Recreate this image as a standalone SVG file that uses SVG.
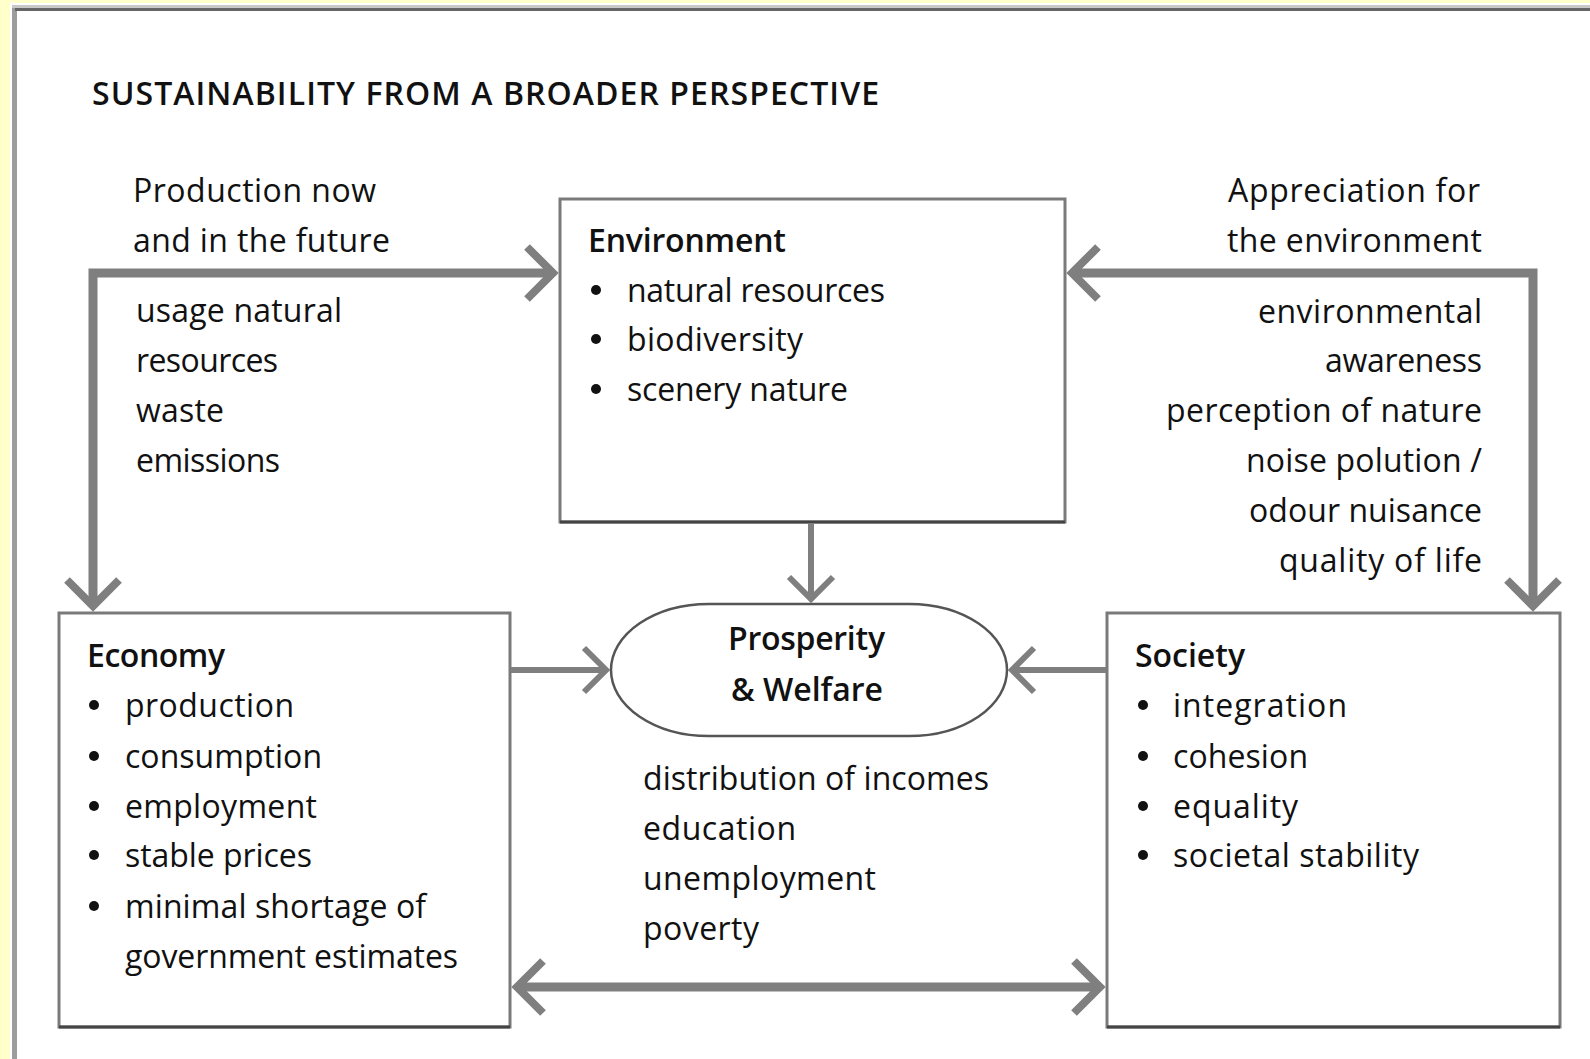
<svg xmlns="http://www.w3.org/2000/svg" width="1590" height="1059" viewBox="0 0 1590 1059">
<style>
text{font-family:"Open Sans","Liberation Sans",sans-serif;font-size:32px;fill:#111}
.b{font-weight:600}
.r{text-anchor:end}
.box{fill:#fff;stroke:#7a7a7a;stroke-width:3}
.shade{stroke:#444;stroke-width:3;fill:none}
.oval{fill:#fff;stroke:#555;stroke-width:2.5}
.big{fill:none;stroke:#7f7f7f;stroke-width:9;stroke-linejoin:miter}
.small{fill:none;stroke:#7f7f7f;stroke-width:6}
.dot{fill:#111}
</style>
<defs>
<marker id="ahBig" markerUnits="userSpaceOnUse" markerWidth="60" markerHeight="70" viewBox="0 0 60 70" refX="36" refY="35" orient="auto-start-reverse" overflow="visible">
<path d="M10 9 L36 35 L10 61" fill="none" stroke="#7f7f7f" stroke-width="8"/>
</marker>
<marker id="ahSmall" markerUnits="userSpaceOnUse" markerWidth="50" markerHeight="60" viewBox="0 0 50 60" refX="32" refY="30" orient="auto-start-reverse" overflow="visible">
<path d="M10 8 L32 30 L10 52" fill="none" stroke="#7f7f7f" stroke-width="6"/>
</marker>
</defs>

<rect x="0" y="0" width="1590" height="1059" fill="#fff"/>
<rect x="0" y="0" width="10" height="1059" fill="#ffffcc"/>
<rect x="0" y="0" width="1590" height="3" fill="#ffffcc"/>
<rect x="12" y="5" width="5" height="1054" fill="#9c9c9c"/>
<rect x="12" y="5" width="1578" height="3" fill="#c8c8c8"/>
<rect x="15" y="8" width="1575" height="3" fill="#666"/>

<text id="title" class="b" x="92" y="105" textLength="787">SUSTAINABILITY FROM A BROADER PERSPECTIVE</text>

<g id="environment">
<rect class="box" x="560" y="199" width="505" height="323"/>
<path class="shade" d="M560 522 H1065"/>
<text class="b" x="588" y="252" textLength="198">Environment</text>
<circle class="dot" cx="596" cy="290" r="5"/>
<text x="627" y="302" textLength="258">natural resources</text>
<circle class="dot" cx="596" cy="339" r="5"/>
<text x="627" y="351" textLength="176">biodiversity</text>
<circle class="dot" cx="596" cy="389" r="5"/>
<text x="627" y="401" textLength="221">scenery nature</text>
</g>

<g id="prosperity">
<rect class="oval" x="611" y="604" width="396" height="132" rx="98" ry="66"/>
<text class="b" x="728" y="650" textLength="157">Prosperity</text>
<text class="b" x="731" y="701" textLength="152">&amp; Welfare</text>
</g>

<g id="economy">
<rect class="box" x="59" y="613" width="451" height="414"/>
<path class="shade" d="M59 1027 H510"/>
<text class="b" x="87" y="667" textLength="138">Economy</text>
<circle class="dot" cx="94" cy="705" r="5"/>
<text x="125" y="717" textLength="169">production</text>
<circle class="dot" cx="94" cy="756" r="5"/>
<text x="125" y="768" textLength="197">consumption</text>
<circle class="dot" cx="94" cy="806" r="5"/>
<text x="125" y="818" textLength="192">employment</text>
<circle class="dot" cx="94" cy="855" r="5"/>
<text x="125" y="867" textLength="187">stable prices</text>
<circle class="dot" cx="94" cy="906" r="5"/>
<text x="125" y="918" textLength="301">minimal shortage of</text>
<text x="125" y="968" textLength="333">government estimates</text>
</g>

<g id="society">
<rect class="box" x="1107" y="613" width="453" height="414"/>
<path class="shade" d="M1107 1027 H1560"/>
<text class="b" x="1135" y="667" textLength="110">Society</text>
<circle class="dot" cx="1143" cy="705" r="5"/>
<text x="1173" y="717" textLength="174">integration</text>
<circle class="dot" cx="1143" cy="756" r="5"/>
<text x="1173" y="768" textLength="135">cohesion</text>
<circle class="dot" cx="1143" cy="806" r="5"/>
<text x="1173" y="818" textLength="125">equality</text>
<circle class="dot" cx="1143" cy="855" r="5"/>
<text x="1173" y="867" textLength="246">societal stability</text>
</g>

<g id="labels-left">
<text x="133" y="202" textLength="243">Production now</text>
<text x="133" y="252" textLength="257">and in the future</text>
<text x="136" y="322" textLength="206">usage natural</text>
<text x="136" y="372" textLength="142">resources</text>
<text x="136" y="422" textLength="88">waste</text>
<text x="136" y="472" textLength="144">emissions</text>
</g>

<g id="labels-right">
<text class="r" x="1480" y="202" textLength="252">Appreciation for</text>
<text class="r" x="1482" y="252" textLength="255">the environment</text>
<text class="r" x="1482" y="323" textLength="224">environmental</text>
<text class="r" x="1482" y="372" textLength="157">awareness</text>
<text class="r" x="1482" y="422" textLength="316">perception of nature</text>
<text class="r" x="1482" y="472" textLength="236">noise polution /</text>
<text class="r" x="1482" y="522" textLength="233">odour nuisance</text>
<text class="r" x="1482" y="572" textLength="203">quality of life</text>
</g>

<g id="labels-middle">
<text x="643" y="790" textLength="346">distribution of incomes</text>
<text x="643" y="840" textLength="153">education</text>
<text x="643" y="890" textLength="233">unemployment</text>
<text x="643" y="940" textLength="116">poverty</text>
</g>

<g id="connectors">
<path class="big" d="M553 273 H93 V606" marker-start="url(#ahBig)" marker-end="url(#ahBig)"/>
<path class="big" d="M1072 273 H1533 V606" marker-start="url(#ahBig)" marker-end="url(#ahBig)"/>
<path class="big" d="M517 987 H1100" marker-start="url(#ahBig)" marker-end="url(#ahBig)"/>
<path class="small" d="M811 524 V599" marker-end="url(#ahSmall)"/>
<path class="small" d="M511 670 H606" marker-end="url(#ahSmall)"/>
<path class="small" d="M1106 670 H1012" marker-end="url(#ahSmall)"/>
</g>
</svg>
